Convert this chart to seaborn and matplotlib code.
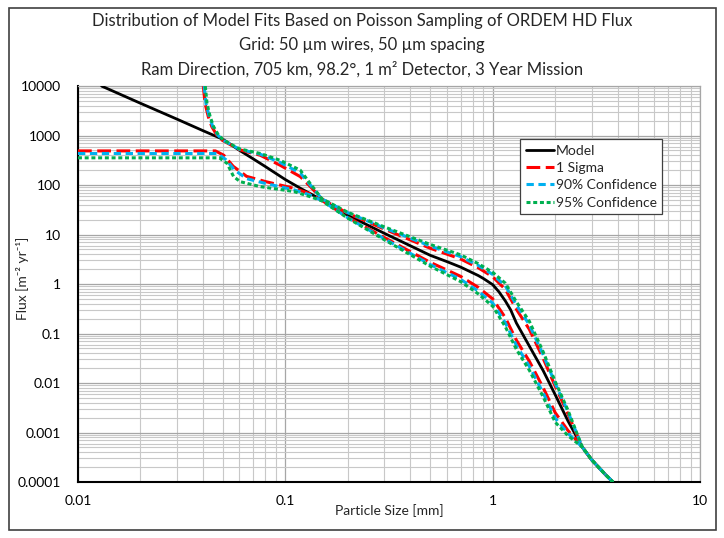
import numpy as np
import pandas as pd
import matplotlib
matplotlib.use('Agg')
import matplotlib.pyplot as plt
import seaborn as sns
from matplotlib.ticker import LogLocator, NullFormatter, FuncFormatter
from matplotlib.patches import Rectangle

# model curve
model_x = [0.013, 0.02, 0.03, 0.04, 0.05, 0.06, 0.07, 0.08, 0.1, 0.12, 0.15,
           0.2, 0.3, 0.5, 0.6, 0.7, 0.85, 0.9, 1.0, 1.07, 1.15, 1.22, 1.3, 1.5, 1.75, 2.0, 2.3,
           2.7, 3.0, 3.5, 3.8]
model_y = [10000, 4500, 2150, 1260, 840, 505, 338, 237, 129, 83, 50,
           24.5, 10.6, 3.8, 2.85, 2.2, 1.49, 1.30, 0.97, 0.70, 0.455, 0.30, 0.163, 0.056, 0.0178,
           0.0058, 0.00174, 0.00051, 0.00028, 0.00014, 0.0001]

# right hand part shared by all band curves
right_x = [0.2, 0.3, 0.5, 0.7, 0.85, 1.0, 1.15, 1.3, 1.5, 1.75, 2.0, 2.3, 2.7, 3.0, 3.5, 3.8]

# 1 sigma
sig_lo_x = [0.01, 0.046, 0.0505, 0.056, 0.065, 0.08, 0.11, 0.13, 0.15]
sig_lo_y = [490, 490, 400, 240, 150, 118, 86, 68, 49]
sig_lo_r = [22.4, 8.71, 2.74, 1.43, 0.86, 0.50, 0.209, 0.0733, 0.0277, 0.00804, 0.00252, 0.00111,
            0.00051, 0.00028, 0.00014, 0.0001]
sig_up_x = [0.0402, 0.041, 0.0425, 0.0442, 0.0467, 0.0495, 0.06, 0.0654, 0.0757, 0.0946, 0.118, 0.132, 0.15]
sig_up_y = [10000, 4460, 2400, 1510, 1020, 810, 520, 470, 400, 250, 148, 93, 52]
sig_up_r = [26.9, 12.9, 5.28, 3.21, 2.14, 1.40, 0.78, 0.309, 0.122, 0.0314, 0.00863, 0.00242,
            0.00051, 0.00028, 0.00014, 0.0001]

# 90% confidence
c90_lo_x = [0.01, 0.047, 0.0515, 0.057, 0.065, 0.08, 0.11, 0.13, 0.15]
c90_lo_y = [435, 435, 330, 200, 135, 108, 80, 64, 48.5]
c90_lo_r = [21.8, 8.22, 2.47, 1.245, 0.723, 0.41, 0.164, 0.0575, 0.0218, 0.0063, 0.00196, 0.00097,
            0.00051, 0.00028, 0.00014, 0.0001]
c90_up_x = [0.0406, 0.0414, 0.043, 0.0447, 0.0472, 0.05, 0.06, 0.0757, 0.0946, 0.118, 0.132, 0.15]
c90_up_y = [10000, 4460, 2400, 1510, 1020, 810, 530, 420, 285, 175, 100, 52.5]
c90_up_r = [27.6, 13.6, 5.85, 3.58, 2.39, 1.56, 0.92, 0.377, 0.151, 0.0374, 0.0098, 0.00267,
            0.00051, 0.00028, 0.00014, 0.0001]

# 95% confidence
c95_lo_x = [0.01, 0.048, 0.0523, 0.0563, 0.0606, 0.0757, 0.11, 0.132, 0.15]
c95_lo_y = [355, 355, 275, 148, 117, 93, 74, 58, 48]
c95_lo_r = [21.4, 7.85, 2.29, 1.12, 0.637, 0.355, 0.137, 0.0479, 0.0182, 0.00525, 0.00162, 0.00087,
            0.00051, 0.00028, 0.00014, 0.0001]
c95_up_x = [0.0411, 0.0419, 0.0434, 0.0451, 0.0476, 0.0503, 0.06, 0.0757, 0.0946, 0.118, 0.132, 0.15]
c95_up_y = [10000, 4460, 2400, 1510, 1020, 810, 540, 435, 315, 200, 106, 53]
c95_up_r = [28.2, 14.3, 6.31, 3.89, 2.59, 1.72, 1.04, 0.437, 0.178, 0.0427, 0.0107, 0.00288,
            0.00051, 0.00028, 0.00014, 0.0001]

sns.set_style('white')
plt.rcParams['font.family'] = ['Lato', 'DejaVu Sans']

fig = plt.figure(figsize=(7.24, 5.38), dpi=100)
ax = fig.add_axes([0.1077, 0.104, 0.8594, 0.736])

bands = [
    ('1 Sigma', '#FF0000', (0, (4.5, 1.8)),
     (sig_lo_x, sig_lo_y, sig_lo_r), (sig_up_x, sig_up_y, sig_up_r)),
    ('90% Confidence', '#00B0F0', (0, (2.4, 1.5)),
     (c90_lo_x, c90_lo_y, c90_lo_r), (c90_up_x, c90_up_y, c90_up_r)),
    ('95% Confidence', '#00B050', (0, (1.3, 0.9)),
     (c95_lo_x, c95_lo_y, c95_lo_r), (c95_up_x, c95_up_y, c95_up_r)),
]

sns.lineplot(x=model_x, y=model_y, ax=ax, color='black', lw=2, estimator=None,
             sort=False, label='Model', zorder=3)
for name, col, ls, lo, up in bands:
    for i, (lx, ly, ry) in enumerate([lo, up]):
        df = pd.DataFrame({'size': lx + right_x, 'flux': ly + ry})
        sns.lineplot(data=df, x='size', y='flux', ax=ax, color=col, lw=2.2, linestyle=ls,
                     estimator=None, sort=False, label=name if i == 0 else '_nolegend_', zorder=4)

ax.set_xscale('log')
ax.set_yscale('log')
ax.set_xlim(0.01, 10)
ax.set_ylim(0.0001, 10000)

ax.xaxis.set_major_locator(LogLocator(base=10, numticks=20))
ax.yaxis.set_major_locator(LogLocator(base=10, numticks=20))
ax.xaxis.set_minor_locator(LogLocator(base=10, subs=np.arange(2, 10), numticks=100))
ax.yaxis.set_minor_locator(LogLocator(base=10, subs=np.arange(2, 10), numticks=100))
ax.xaxis.set_minor_formatter(NullFormatter())
ax.yaxis.set_minor_formatter(NullFormatter())
fmt = FuncFormatter(lambda v, p: '{:g}'.format(v) if v < 1e4 else '{:d}'.format(int(round(v))))
ax.xaxis.set_major_formatter(fmt)
ax.yaxis.set_major_formatter(fmt)

ax.grid(True, which='major', color='#A6A6A6', lw=0.9)
ax.grid(True, which='minor', color='#C8C8C8', lw=0.8)
ax.set_axisbelow(True)
ax.tick_params(which='both', length=0, labelsize=10, colors='black')
ax.tick_params(axis='x', pad=9)
ax.tick_params(axis='y', pad=12)

for s in ['top', 'right']:
    ax.spines[s].set_color('#A6A6A6')
    ax.spines[s].set_linewidth(0.9)
for s in ['left', 'bottom']:
    ax.spines[s].set_color('black')
    ax.spines[s].set_linewidth(1.5)

ax.set_xlabel('Particle Size [mm]', fontsize=10)
ax.xaxis.set_label_coords(0.5, -0.055)
ax.set_ylabel('Flux [m⁻² yr⁻¹]', fontsize=10)
ax.yaxis.set_label_coords(-0.079, 0.515)

leg = ax.legend(loc='upper right', bbox_to_anchor=(0.939, 0.866), borderaxespad=0, fontsize=10,
                handlelength=2.0, handletextpad=0.15, labelspacing=0.38,
                borderpad=0.4, fancybox=False, framealpha=1)
leg.get_frame().set_edgecolor('#404040')
leg.get_frame().set_linewidth(0.9)

fig.text(0.5, 1 - 21 / 538, 'Distribution of Model Fits Based on Poisson Sampling of ORDEM HD Flux',
         ha='center', va='center', fontsize=12)
fig.text(0.5, 1 - 45 / 538, 'Grid: 50 µm wires, 50 µm spacing',
         ha='center', va='center', fontsize=12)
fig.text(0.5, 1 - 69 / 538, 'Ram Direction, 705 km, 98.2°, 1 m² Detector, 3 Year Mission',
         ha='center', va='center', fontsize=12)

fig.patches.append(Rectangle((9 / 724, 8 / 538), 707 / 724, 522 / 538, transform=fig.transFigure,
                             fill=False, edgecolor='#404040', lw=1.2))

fig.savefig('out.png', dpi=100)
